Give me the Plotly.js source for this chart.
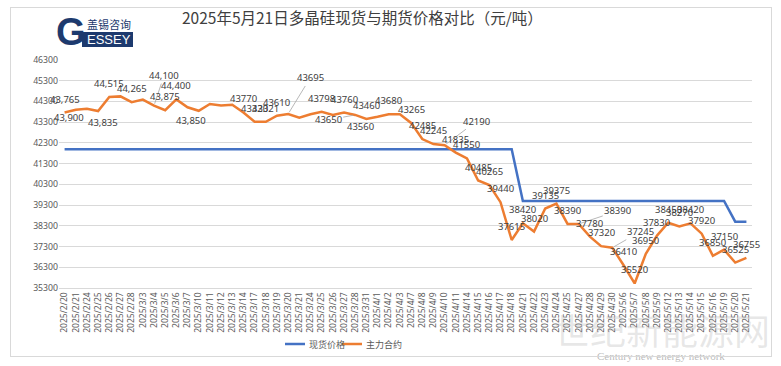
<!DOCTYPE html>
<html><head><meta charset="utf-8">
<script src="https://cdn.plot.ly/plotly-3.0.1.min.js"></script>
<style>
html,body{margin:0;padding:0;background:#fff;}
#chart{width:781px;height:366px;position:absolute;left:0;top:0;}
#frame{position:absolute;left:10px;top:7px;width:760px;height:348px;border:1px solid #d9d9d9;pointer-events:none;}
</style>
</head><body>
<div id="chart"></div><div id="frame"></div>
<script>
const dates = ["2025/2/20","2025/2/21","2025/2/24","2025/2/25","2025/2/26","2025/2/27","2025/2/28",
"2025/3/3","2025/3/4","2025/3/5","2025/3/6","2025/3/7",
"2025/3/10","2025/3/11","2025/3/12","2025/3/13","2025/3/14",
"2025/3/17","2025/3/18","2025/3/19","2025/3/20","2025/3/21",
"2025/3/24","2025/3/25","2025/3/26","2025/3/27","2025/3/28",
"2025/3/31","2025/4/1","2025/4/2","2025/4/3",
"2025/4/7","2025/4/8","2025/4/9","2025/4/10","2025/4/11",
"2025/4/14","2025/4/15","2025/4/16","2025/4/17","2025/4/18",
"2025/4/21","2025/4/22","2025/4/23","2025/4/24","2025/4/25",
"2025/4/27","2025/4/28","2025/4/29","2025/4/30",
"2025/5/6","2025/5/7","2025/5/8","2025/5/9",
"2025/5/12","2025/5/13","2025/5/14","2025/5/15","2025/5/16",
"2025/5/19","2025/5/20","2025/5/21"];

const spotPrice = [42000,42000,42000,42000,42000,42000,42000,
42000,42000,42000,42000,42000,
42000,42000,42000,42000,42000,
42000,42000,42000,42000,42000,
42000,42000,42000,42000,42000,
42000,42000,42000,42000,
42000,42000,42000,42000,42000,
42000,42000,42000,42000,42000,
39500,39500,39500,39500,39500,
39500,39500,39500,39500,
39500,39500,39500,39500,
39500,39500,39500,39500,39500,
39500,38500,38500];

const futuresPrice = [43765,43900,43950,43835,44515,44545,44265,
44390,44100,43875,44400,44020,
43850,44180,44100,44140,43770,
43320,43321,43610,43695,43515,
43680,43798,43650,43760,43650,
43460,43560,43680,43680,
43265,42485,42245,42190,41835,
41550,40485,40265,39440,37615,
38420,38020,39135,39375,38390,
38390,37780,37320,37245,
36410,35520,36950,37830,
38450,38270,38420,37920,36850,
37150,36525,36755];

const futuresLabels = ["43,765","43,900","","43,835","44,515","","44,265",
"","44,100","43,875","44,400","",
"43,850","","","","43770",
"43320","43321","43610","43695","",
"","43798","","43760","43650",
"43460","43560","43680","",
"43265","42485","42245","42190","41835",
"41550","40485","40265","39440","37615",
"38420","38020","39135","39375","38390",
"38390","37780","37320","37245",
"36410","35520","36950","37830",
"38450","38270","38420","37920","36850",
"37150","36525","36755"];

const seriesNames = ["现货价格","主力合约"];
const titleText = "2025年5月21日多晶硅现货与期货价格对比（元/吨）";

// label placement (pixel offsets of label centre from the point; lead = leader line)
const labelPlace = {
  1:{dx:-7,dy:8}, 3:{dx:5,dy:11}, 12:{dx:-8,dy:10}, 28:{dx:-17,dy:10},
  8:{dx:10,dy:-30,lead:true}, 20:{dx:22,dy:-36,lead:true}, 26:{dx:-27,dy:5,lead:true},
  34:{dx:32,dy:-24,lead:true}, 46:{dx:39,dy:-13,lead:true}, 49:{dx:28,dy:-16,lead:true}
};

const W=781,H=366,ML=59,MR=29,MT=60,MB=78;
const PW=W-ML-MR, PH=H-MT-MB;
const px = x => (x-ML)/PW;
const py = y => (H-MB-y)/PH;

const labelFont = {family:"Noto Sans, sans-serif", size:9.5, color:"#404040"};
const annotations = [];
futuresLabels.forEach((t,i)=>{
  if(!t) return;
  const p = labelPlace[i] || {dx:0,dy:-13.5};
  if(p.lead){
    annotations.push({x:dates[i], y:futuresPrice[i], xref:'x', yref:'y', text:t, font:labelFont,
      showarrow:true, arrowhead:0, arrowwidth:0.8, arrowcolor:'#a6a6a6', standoff:2, ax:p.dx, ay:p.dy});
  } else {
    annotations.push({x:dates[i], y:futuresPrice[i], xref:'x', yref:'y', text:t, font:labelFont,
      showarrow:false, xshift:p.dx, yshift:-p.dy});
  }
});

// custom legend
const legFont = {family:"Noto Sans CJK SC, sans-serif", size:9, color:"#595959"};
annotations.push({xref:'paper',yref:'paper',x:px(307),y:py(344),xanchor:'left',yanchor:'middle',text:seriesNames[0],font:legFont,showarrow:false});
annotations.push({xref:'paper',yref:'paper',x:px(364),y:py(344),xanchor:'left',yanchor:'middle',text:seriesNames[1],font:legFont,showarrow:false});

// logo
annotations.push({xref:'paper',yref:'paper',x:px(71),y:py(32),xanchor:'center',yanchor:'middle',text:'<b>G</b>',font:{family:'Liberation Sans, Arial',size:38,color:'#1d3a6e'},showarrow:false});
annotations.push({xref:'paper',yref:'paper',x:px(109),y:py(24),xanchor:'center',yanchor:'middle',text:'盖锡咨询',font:{family:'Noto Sans CJK SC',size:11,color:'#1d3a6e'},showarrow:false});
annotations.push({xref:'paper',yref:'paper',x:px(109),y:py(40),xanchor:'center',yanchor:'middle',text:'ESSEY',font:{family:'Liberation Sans, Arial',size:13,color:'#ffffff'},showarrow:false});

// watermark
annotations.push({xref:'paper',yref:'paper',x:px(662),y:py(329),xanchor:'center',yanchor:'middle',text:'世纪新能源网',font:{family:'Noto Sans CJK SC',size:36,color:'rgba(170,170,170,0.28)'},showarrow:false});
annotations.push({xref:'paper',yref:'paper',x:px(661),y:py(356),xanchor:'center',yanchor:'middle',text:'Century new energy network',font:{family:'Liberation Serif, serif',size:11,color:'rgba(140,140,140,0.6)'},showarrow:false});

const shapes = [
  {type:'line',xref:'paper',yref:'paper',x0:px(285),x1:px(305),y0:py(344),y1:py(344),line:{color:'#4472C4',width:2.5}},
  {type:'line',xref:'paper',yref:'paper',x0:px(342),x1:px(362),y0:py(344),y1:py(344),line:{color:'#ED7D31',width:2.5}},
  {type:'rect',xref:'paper',yref:'paper',x0:px(82),x1:px(133),y0:py(47),y1:py(32),fillcolor:'#1d3a6e',line:{width:0},layer:'below'}
];

const traces = [
  {x:dates, y:spotPrice, name:seriesNames[0], type:'scatter', mode:'lines', line:{color:'#4472C4',width:2.5}},
  {x:dates, y:futuresPrice, name:seriesNames[1], type:'scatter', mode:'lines', line:{color:'#ED7D31',width:2.5}}
];

const layout = {
  width:W, height:H,
  margin:{l:ML,r:MR,t:MT,b:MB,pad:0},
  paper_bgcolor:'rgba(0,0,0,0)', plot_bgcolor:'rgba(0,0,0,0)',
  showlegend:false,
  title:{text:titleText, xref:'container', yref:'container', x:182/W, xanchor:'left', y:1-19/H, yanchor:'middle',
    font:{family:'Noto Sans CJK SC, sans-serif', size:15.5, color:'#404040'}},
  xaxis:{type:'category', range:[-0.5,61.5], tickangle:-90, tickfont:{family:'Noto Sans, sans-serif',size:8.5,color:'#595959'},
    showgrid:false, showline:true, linecolor:'#d9d9d9', linewidth:1, ticks:'', fixedrange:true},
  yaxis:{range:[35300,46300], tick0:35300, dtick:1000, tickformat:'d', showgrid:true, gridcolor:'#d9d9d9', gridwidth:1,
    zeroline:false, showline:false, ticks:'', tickfont:{family:'Noto Sans, sans-serif',size:8.7,color:'#595959'}, fixedrange:true},
  annotations:annotations, shapes:shapes
};

Plotly.newPlot('chart', traces, layout, {staticPlot:true, displayModeBar:false});
</script>
</body></html>
